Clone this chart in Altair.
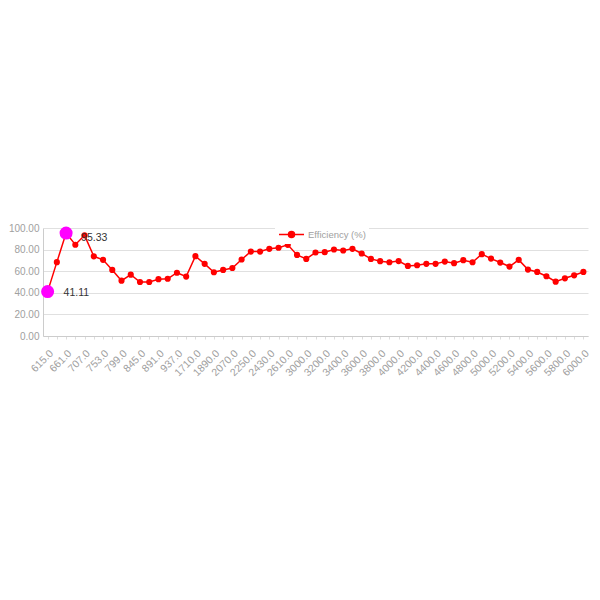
import altair as alt
import pandas as pd

categories = [
    "615.0", "638.0", "661.0", "684.0", "707.0", "730.0", "753.0", "776.0",
    "799.0", "822.0", "845.0", "868.0", "891.0", "914.0", "937.0", "1620.0",
    "1710.0", "1800.0", "1890.0", "1980.0", "2070.0", "2160.0", "2250.0",
    "2340.0", "2430.0", "2520.0", "2610.0", "2800.0", "3000.0", "3100.0",
    "3200.0", "3300.0", "3400.0", "3500.0", "3600.0", "3700.0", "3800.0",
    "3900.0", "4000.0", "4100.0", "4200.0", "4300.0", "4400.0", "4500.0",
    "4600.0", "4700.0", "4800.0", "4900.0", "5000.0", "5100.0", "5200.0",
    "5300.0", "5400.0", "5500.0", "5600.0", "5700.0", "5800.0", "5900.0",
    "6000.0",
]
efficiency = [
    41.11, 68.4, 95.33, 84.5, 93.2, 73.8, 70.5, 61.2,
    51.2, 56.8, 50.0, 50.0, 52.6, 53.0, 58.6, 55.0,
    73.9, 66.8, 59.0, 61.2, 63.0, 70.8, 78.2,
    78.2, 80.7, 81.7, 84.4, 75.1, 71.4, 77.3,
    77.6, 80.1, 79.2, 80.7, 76.4, 71.4, 69.3,
    68.3, 69.4, 64.9, 65.5, 66.8, 66.8, 68.9,
    67.4, 70.2, 68.3, 75.8, 71.7, 68.0, 64.3,
    70.5, 61.5, 59.3, 55.3, 50.3, 53.4, 56.2,
    59.3,
]
y_ticks = [0, 20, 40, 60, 80, 100]
series_name = "Efficiency (%)"
shown_labels = categories[::2]

df = pd.DataFrame({"cat": categories, "val": efficiency, "series": series_name})

imax = efficiency.index(max(efficiency))
imin = efficiency.index(min(efficiency))
df_max = pd.DataFrame({"cat": [categories[imax]], "val": [efficiency[imax]],
                       "txt": [f"{efficiency[imax]:.2f}"]})
df_min = pd.DataFrame({"cat": [categories[imin]], "val": [efficiency[imin]],
                       "txt": [f"{efficiency[imin]:.2f}"]})

label_list = ",".join("'" + s + "'" for s in shown_labels)
label_expr = f"indexof([{label_list}], datum.value) >= 0 ? datum.label : ''"

x_enc = alt.X(
    "cat:N", sort=categories, title=None,
    scale=alt.Scale(domain=categories),
    axis=alt.Axis(labelAngle=-45, labelExpr=label_expr, labelColor="#a0a0a0",
                  labelFontSize=10.5, labelFont="Liberation Sans",
                  domainColor="#cccccc", tickColor="#dddddd", tickSize=3,
                  labelPadding=9, grid=False, labelOverlap=False),
)
y_enc = alt.Y(
    "val:Q", title=None,
    scale=alt.Scale(domain=[0, 100], nice=False, zero=True),
    axis=alt.Axis(values=y_ticks, format=".2f", labelOverlap=False,
                  labelColor="#a0a0a0", labelFontSize=10,
                  labelFont="Liberation Sans", ticks=False, labelPadding=4,
                  domainColor="#cccccc", gridColor="#e0e0e0"),
)

line = alt.Chart(df).mark_line(
    strokeWidth=1.5,
    point=alt.OverlayMarkDef(filled=True, size=38, opacity=1),
).encode(
    x=x_enc, y=y_enc,
    color=alt.Color(
        "series:N", scale=alt.Scale(range=["#ff0000"]),
        legend=alt.Legend(
            title=None, orient="none", legendX=232, legendY=-10,
            symbolType="M-1,0L1,0M-0.24,0A0.24,0.24,0,1,1,0.24,0A0.24,0.24,0,1,1,-0.24,0Z",
            symbolSize=625, symbolStrokeWidth=1.5, symbolFillColor="#ff0000",
            symbolStrokeColor="#ff0000", labelColor="#a0a0a0", labelFontSize=9.5,
            labelFont="Liberation Sans", fillColor="white", padding=3,
            labelOffset=3,
        ),
    ),
)

big_max = alt.Chart(df_max).mark_circle(size=170, color="#ff00ff", opacity=1).encode(
    x=x_enc, y=y_enc)
big_min = alt.Chart(df_min).mark_circle(size=170, color="#ff00ff", opacity=1).encode(
    x=x_enc, y=y_enc)
txt_max = alt.Chart(df_max).mark_text(
    align="left", baseline="middle", dx=15, dy=5, fontSize=10.5,
    font="Liberation Sans", color="#333333").encode(
    x=x_enc, y=y_enc, text="txt:N")
txt_min = alt.Chart(df_min).mark_text(
    align="left", baseline="middle", dx=16, dy=1, fontSize=10.5,
    font="Liberation Sans", color="#333333").encode(
    x=x_enc, y=y_enc, text="txt:N")

chart = alt.layer(line, big_min, big_max, txt_min, txt_max).properties(
    width=545, height=108,
    autosize=alt.AutoSizeParams(type="none"),
    padding={"left": 35, "top": 220, "right": 4, "bottom": 80},
).configure_view(stroke=None)

chart.save("out.html", embed_options={"renderer": "svg", "actions": False})
